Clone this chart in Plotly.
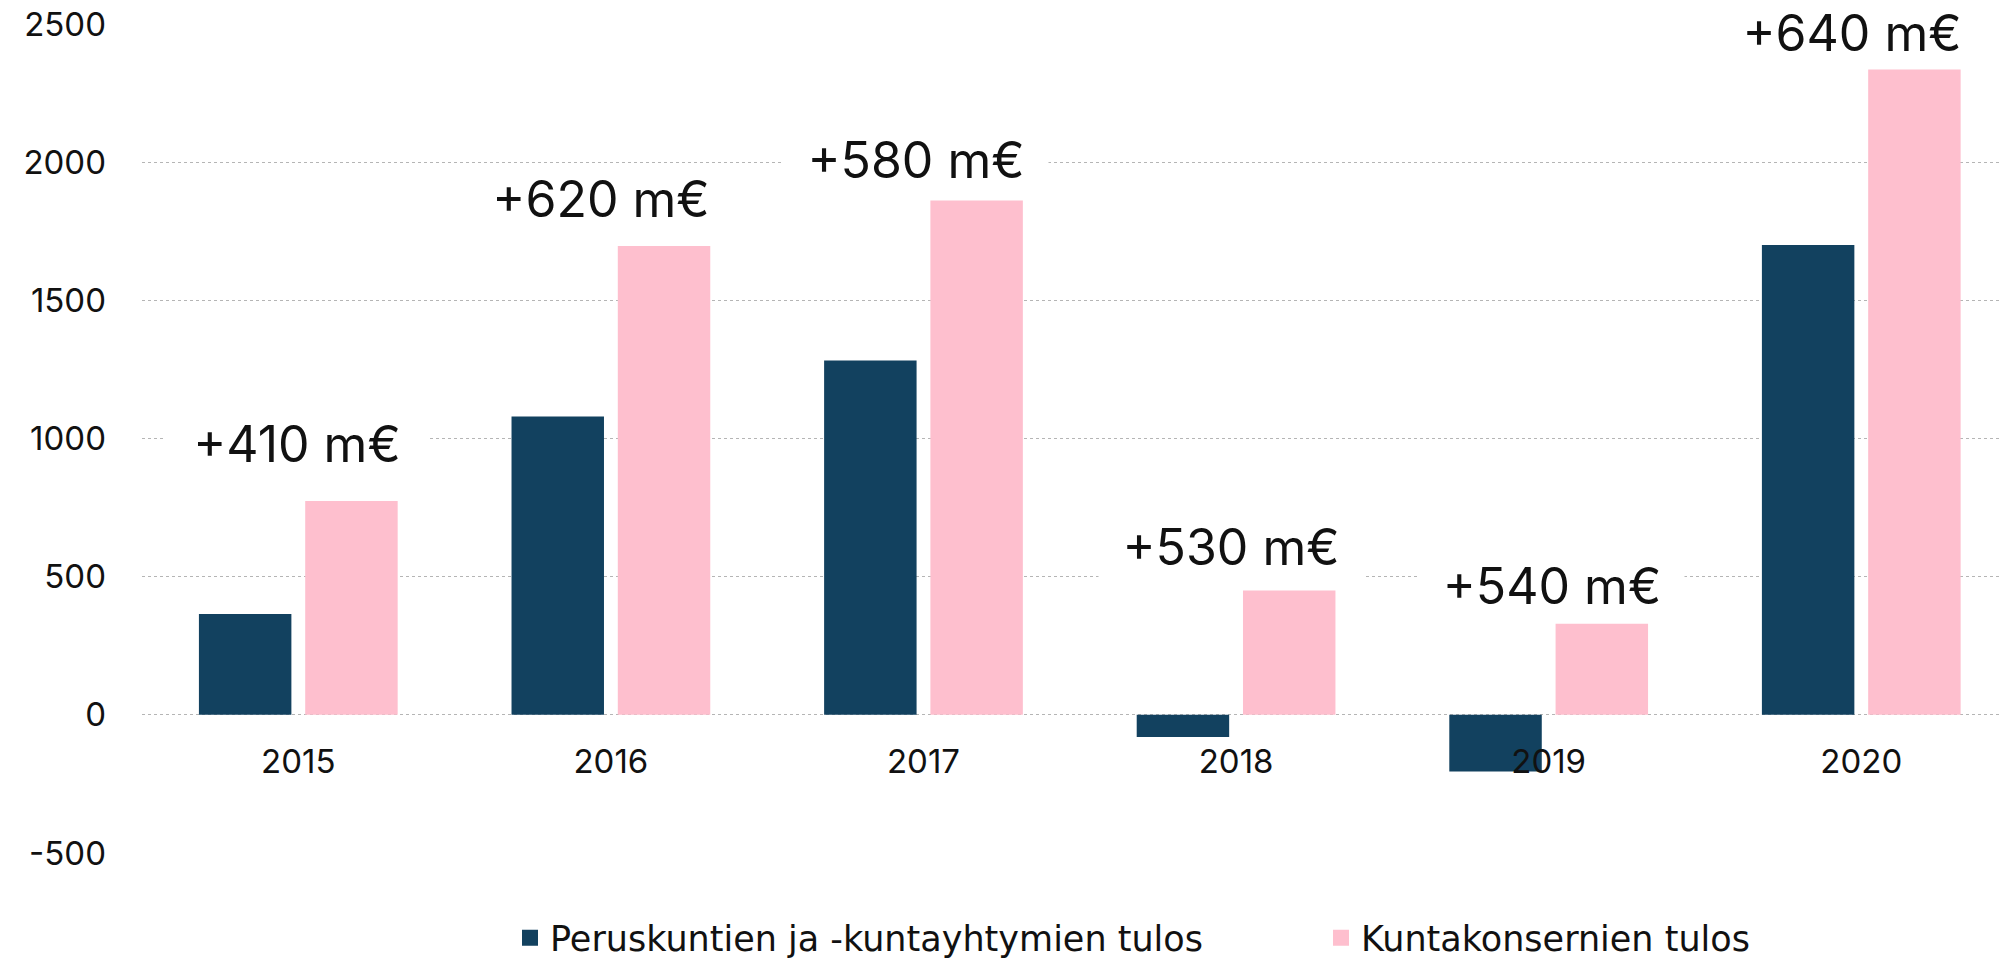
import plotly.graph_objects as go

years = ["2015", "2016", "2017", "2018", "2019", "2020"]
peruskunnat = [365, 1080, 1282, -80, -205, 1700]
konsernit = [774, 1697, 1861, 450, 330, 2335]
erotus = [410, 620, 580, 530, 540, 640]
name_perus = "Peruskuntien ja -kuntayhtymien tulos"
name_kons = "Kuntakonsernien tulos"
y_ticks = [-500, 0, 500, 1000, 1500, 2000, 2500]
y_ticktext = ["-500", "0", "500", "1000", "1500", "2000", "2500"]

DARK = "#12415F"
PINK = "#FEBFCE"
FONT = "Inter, Lato, sans-serif"
LEGEND_FONT = "DejaVu Sans, sans-serif"

fig = go.Figure()
fig.add_trace(go.Bar(x=years, y=peruskunnat, name=name_perus, marker_color=DARK,
                     marker_line_width=0, showlegend=False))
fig.add_trace(go.Bar(x=years, y=konsernit, name=name_kons, marker_color=PINK,
                     marker_line_width=0, showlegend=False))
# legend entries with larger square symbols
fig.add_trace(go.Scatter(x=[None], y=[None], mode="markers", name=name_perus,
                         marker=dict(symbol="square", size=19, color=DARK),
                         legend="legend"))
fig.add_trace(go.Scatter(x=[None], y=[None], mode="markers", name=name_kons,
                         marker=dict(symbol="square", size=19, color=PINK),
                         legend="legend2"))

label_yshift = [57, 47, 41, 43, 38, 37]
label_xshift = [-1, -10, -7, -5, 3, -9]
for i, (v, d) in enumerate(zip(konsernit, erotus)):
    fig.add_annotation(x=i, y=v, xref="x", yref="y", text=f"+{d} m€",
                       showarrow=False, yanchor="middle",
                       yshift=label_yshift[i], xshift=label_xshift[i],
                       font=dict(size=50, color="#111111", family=FONT),
                       bgcolor="white", borderpad=4, width=256)

legend_common = dict(orientation="h", xanchor="left", yanchor="middle",
                     y=-(938 - 853) / 829,
                     font=dict(size=35, color="#111111", family=LEGEND_FONT),
                     bgcolor="rgba(0,0,0,0)", itemsizing="trace",
                     tracegroupgap=0)
fig.update_layout(
    width=2001, height=964,
    margin=dict(l=142, r=0, t=24, b=111, autoexpand=False),
    plot_bgcolor="white", paper_bgcolor="white",
    barmode="group", bargap=0.32, bargroupgap=0.13,
    font=dict(family=FONT, size=33, color="#111111"),
    legend=dict(x=(510 - 142) / 1859, **legend_common),
    legend2=dict(x=(1321 - 142) / 1859, **legend_common),
    xaxis=dict(type="category", range=[-0.5, 5.447], showgrid=False, showline=False,
               ticks="", tickfont=dict(size=33), anchor="free",
               position=138 / 829, ticklabelstandoff=24),
    yaxis=dict(range=[-500, 2500], domain=[0, 1], tickvals=y_ticks,
               ticktext=y_ticktext, showgrid=True,
               gridcolor="#b5b5b5", griddash="dot", gridwidth=1,
               zeroline=False, showline=False, ticks="",
               tickfont=dict(size=33), ticklabelstandoff=35),
)

fig.write_html("out.html")
